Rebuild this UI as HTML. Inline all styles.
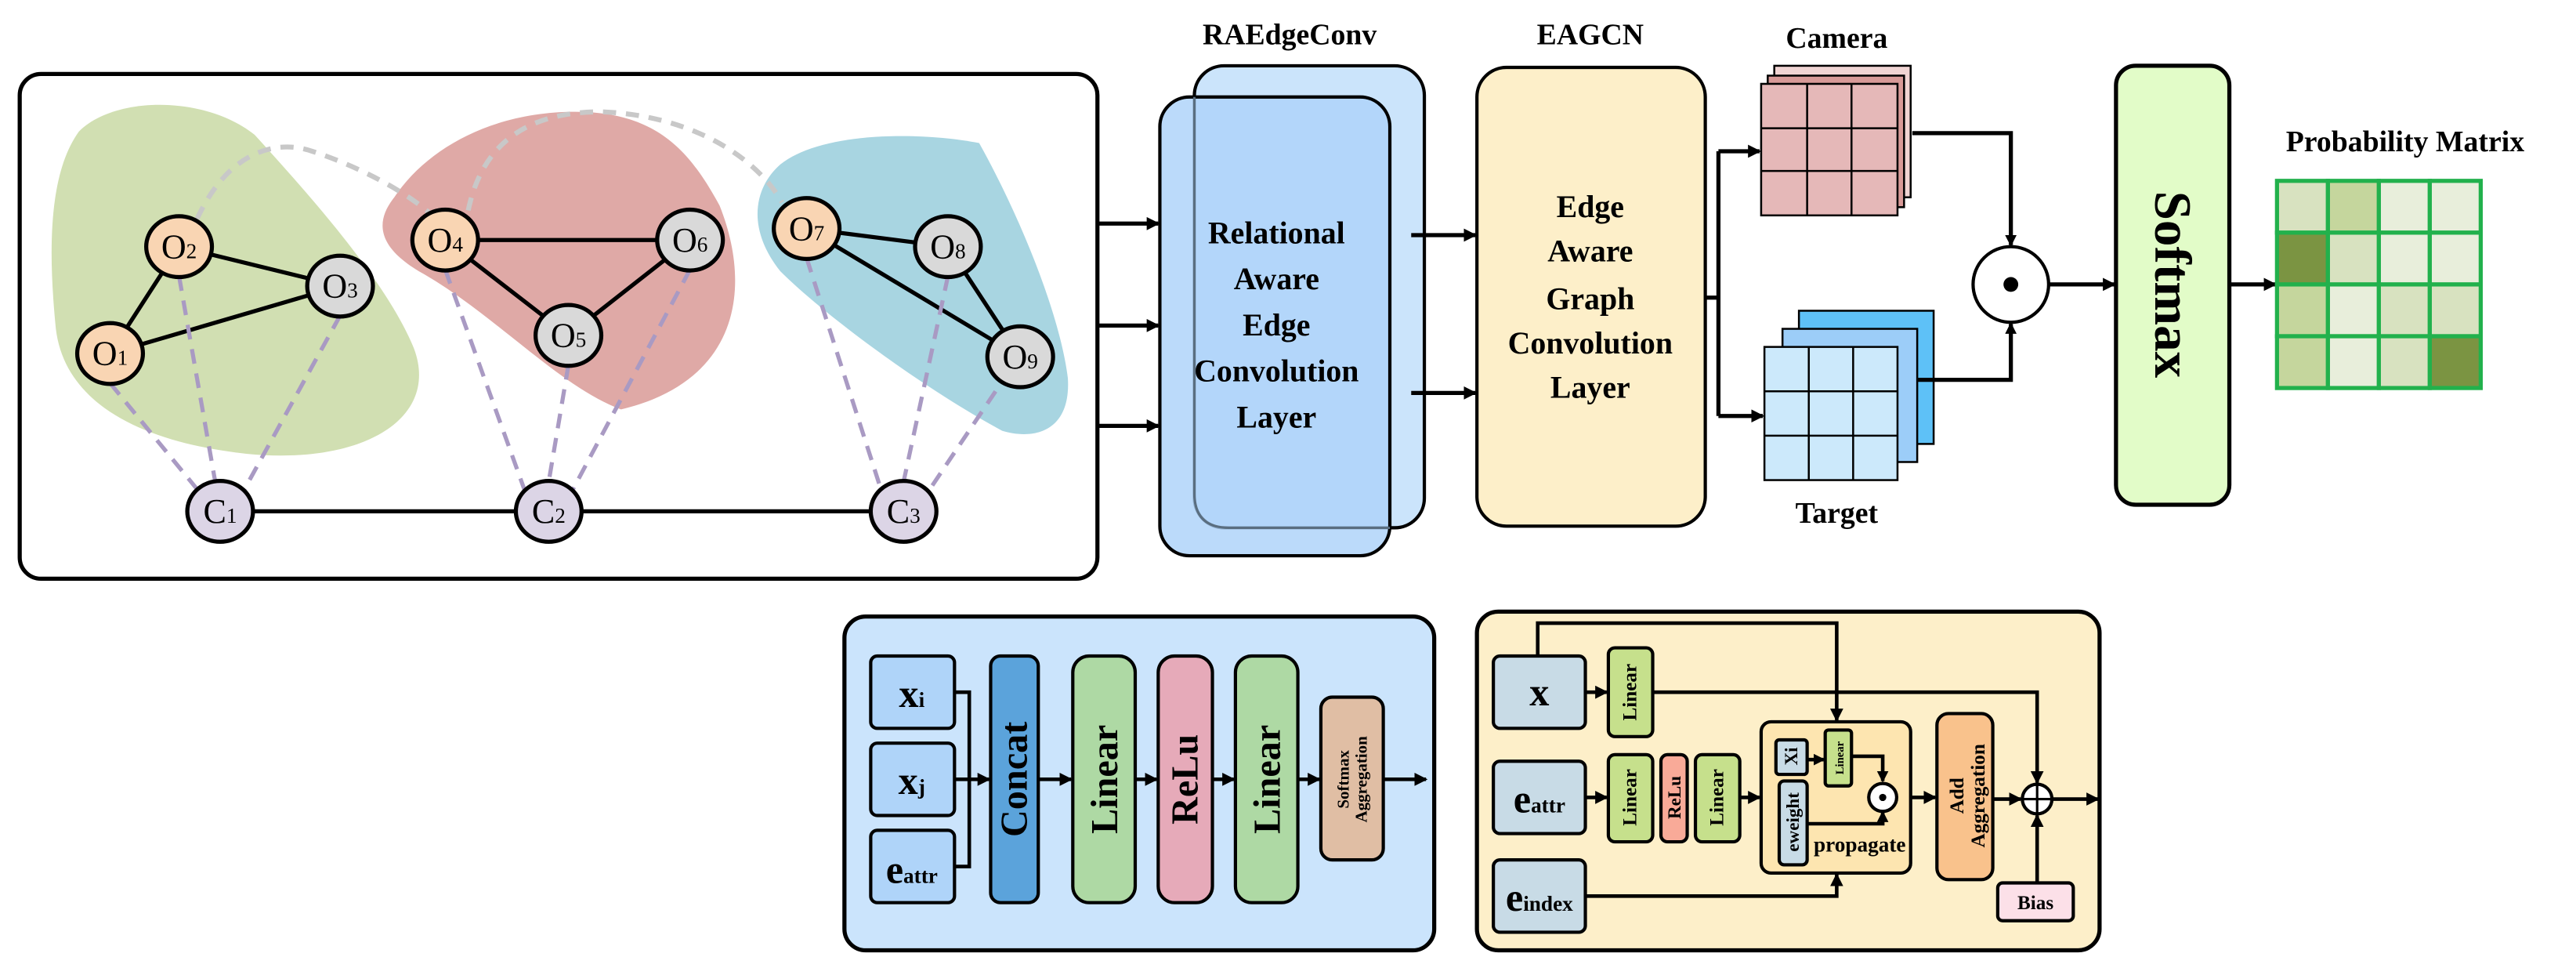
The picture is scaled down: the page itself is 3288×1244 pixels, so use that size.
<!DOCTYPE html>
<html><head><meta charset="utf-8"><style>
html,body{margin:0;padding:0;background:#fff;}
svg{display:block;}
</style></head><body>
<svg width="3288" height="1244" viewBox="0 0 1568 593" preserveAspectRatio="none" xmlns="http://www.w3.org/2000/svg" font-family="'Liberation Serif', 'DejaVu Serif', serif" font-weight="bold" style="font-family:'Liberation Serif','DejaVu Serif',serif">
<defs>
<marker id="a" markerWidth="10" markerHeight="10" refX="7" refY="4" orient="auto" markerUnits="userSpaceOnUse"><path d="M0,0 L8,4 L0,8 Z" fill="#000"/></marker>
<marker id="s" markerWidth="8" markerHeight="8" refX="6" refY="3.5" orient="auto" markerUnits="userSpaceOnUse"><path d="M0,0 L7,3.5 L0,7 Z" fill="#000"/></marker>
</defs>

<rect x="12" y="45" width="656" height="307" rx="13" fill="#fff" stroke="#000" stroke-width="2.5"/>
<path d="M48,80 C70,58 125,58 155,82 C185,115 235,170 252,212 C268,255 220,283 150,276 C95,270 40,250 34,200 C29,150 30,105 48,80 Z" fill="#d1dfb2"/>
<path d="M240,120 C260,90 300,68 350,68 C400,68 420,92 438,125 C458,175 450,232 378,249 C340,235 300,190 255,165 C230,150 228,135 240,120 Z" fill="#dfa9a6"/>
<path d="M475,100 C500,80 560,80 596,87 C620,130 645,190 650,230 C652,262 630,268 610,262 C560,235 500,190 475,165 C455,140 458,115 475,100 Z" fill="#a8d5e1"/>
<path d="M120,133 C140,90 170,85 190,92 C215,100 245,115 262,130" fill="none" stroke="#c8c8c8" stroke-width="3" stroke-dasharray="8,6"/>
<path d="M285,128 C295,80 330,68 366,68 C420,70 460,95 476,123" fill="none" stroke="#c8c8c8" stroke-width="3" stroke-dasharray="8,6"/>
<g stroke="#000" stroke-width="2.5">
<line x1="67" y1="215" x2="109" y2="150"/><line x1="109" y1="150" x2="207" y2="174"/><line x1="67" y1="215" x2="207" y2="174"/>
<line x1="271" y1="146" x2="420" y2="146"/><line x1="271" y1="146" x2="346" y2="204"/><line x1="346" y1="204" x2="420" y2="146"/>
<line x1="491" y1="139" x2="577" y2="150"/><line x1="491" y1="139" x2="621" y2="217"/><line x1="577" y1="150" x2="621" y2="217"/>
<line x1="134" y1="311" x2="550" y2="311"/>
</g>
<g stroke="#a99ac3" stroke-width="2.5" stroke-dasharray="9,6" fill="none">
<line x1="67" y1="233" x2="122" y2="300"/><line x1="109" y1="168" x2="131" y2="293"/><line x1="207" y1="192" x2="148" y2="299"/>
<line x1="271" y1="164" x2="320" y2="300"/><line x1="346" y1="222" x2="334" y2="293"/><line x1="420" y1="164" x2="348" y2="299"/>
<line x1="491" y1="157" x2="537" y2="300"/><line x1="577" y1="168" x2="550" y2="293"/><line x1="606" y1="238" x2="565" y2="299"/>
</g>
<g stroke="#000" stroke-width="2.5">
<ellipse cx="67" cy="215" rx="20" ry="18.5" fill="#f9d5b3"/>
<ellipse cx="109" cy="150" rx="20" ry="18.5" fill="#f9d5b3"/>
<ellipse cx="207" cy="174" rx="20" ry="18.5" fill="#d9d9d9"/>
<ellipse cx="271" cy="146" rx="20" ry="18.5" fill="#f9d5b3"/>
<ellipse cx="346" cy="204" rx="20" ry="18.5" fill="#d9d9d9"/>
<ellipse cx="420" cy="146" rx="20" ry="18.5" fill="#d9d9d9"/>
<ellipse cx="491" cy="139" rx="20" ry="18.5" fill="#f9d5b3"/>
<ellipse cx="577" cy="150" rx="20" ry="18.5" fill="#d9d9d9"/>
<ellipse cx="621" cy="217" rx="20" ry="18.5" fill="#d9d9d9"/>
<ellipse cx="134" cy="311" rx="20" ry="18.5" fill="#dcd5e6"/>
<ellipse cx="334" cy="311" rx="20" ry="18.5" fill="#dcd5e6"/>
<ellipse cx="550" cy="311" rx="20" ry="18.5" fill="#dcd5e6"/>
</g>
<g font-size="21" text-anchor="middle" font-weight="normal">
<text x="67" y="222">O<tspan font-size="13">1</tspan></text>
<text x="109" y="157">O<tspan font-size="13">2</tspan></text>
<text x="207" y="181">O<tspan font-size="13">3</tspan></text>
<text x="271" y="153">O<tspan font-size="13">4</tspan></text>
<text x="346" y="211">O<tspan font-size="13">5</tspan></text>
<text x="420" y="153">O<tspan font-size="13">6</tspan></text>
<text x="491" y="146">O<tspan font-size="13">7</tspan></text>
<text x="577" y="157">O<tspan font-size="13">8</tspan></text>
<text x="621" y="224">O<tspan font-size="13">9</tspan></text>
<text x="134" y="318">C<tspan font-size="13">1</tspan></text>
<text x="334" y="318">C<tspan font-size="13">2</tspan></text>
<text x="550" y="318">C<tspan font-size="13">3</tspan></text>
</g>

<g stroke="#000" stroke-width="2.5" marker-end="url(#a)">
<line x1="668" y1="136" x2="705" y2="136"/><line x1="668" y1="198" x2="705" y2="198"/><line x1="668" y1="259" x2="705" y2="259"/>
</g>
<text x="785" y="27" font-size="18" text-anchor="middle">RAEdgeConv</text>
<rect x="727" y="40" width="140" height="281" rx="18" fill="#cbe4fb" stroke="#000" stroke-width="2"/>
<rect x="706" y="59" width="140" height="279" rx="18" fill="#afd4f9" fill-opacity="0.85" stroke="#000" stroke-width="2"/>
<path d="M727,59 L727,300 Q727,321 748,321 L846,321" fill="none" stroke="#5a6e80" stroke-width="1.5"/>
<g font-size="19" text-anchor="middle">
<text x="777" y="148">Relational</text><text x="777" y="176">Aware</text><text x="777" y="204">Edge</text><text x="777" y="232">Convolution</text><text x="777" y="260">Layer</text>
</g>
<g stroke="#000" stroke-width="2.5" marker-end="url(#a)">
<line x1="859" y1="143" x2="898" y2="143"/><line x1="859" y1="239" x2="898" y2="239"/>
</g>
<text x="968" y="27" font-size="18" text-anchor="middle">EAGCN</text>
<rect x="899" y="41" width="139" height="279" rx="18" fill="#fdefc9" stroke="#000" stroke-width="2"/>
<g font-size="19" text-anchor="middle">
<text x="968" y="132">Edge</text><text x="968" y="159">Aware</text><text x="968" y="188">Graph</text><text x="968" y="215">Convolution</text><text x="968" y="242">Layer</text>
</g>
<g stroke="#000" stroke-width="2.5" fill="none">
<line x1="1038" y1="181" x2="1046" y2="181"/>
<line x1="1046" y1="92" x2="1046" y2="253"/>
<line x1="1046" y1="92" x2="1071" y2="92" marker-end="url(#a)"/>
<line x1="1046" y1="253" x2="1073" y2="253" marker-end="url(#a)"/>
</g>
<text x="1118" y="29" font-size="18" text-anchor="middle">Camera</text>
<g stroke="#000" stroke-width="1.2">
<rect x="1080" y="40" width="83" height="80" fill="#f0d4d3"/>
<rect x="1076" y="46" width="83" height="80" fill="#d89a98"/>
<rect x="1072" y="51" width="83" height="80" fill="#e5b8b8"/>
<line x1="1100" y1="51" x2="1100" y2="131"/><line x1="1127" y1="51" x2="1127" y2="131"/>
<line x1="1072" y1="78" x2="1155" y2="78"/><line x1="1072" y1="104" x2="1155" y2="104"/>
</g>
<g stroke="#000" stroke-width="1.2">
<rect x="1095" y="189" width="82" height="81" fill="#5ec1f7"/>
<rect x="1085" y="200" width="82" height="81" fill="#9ccdf8"/>
<rect x="1074" y="211" width="81" height="81" fill="#cce9fb"/>
<line x1="1101" y1="211" x2="1101" y2="292"/><line x1="1128" y1="211" x2="1128" y2="292"/>
<line x1="1074" y1="238" x2="1155" y2="238"/><line x1="1074" y1="265" x2="1155" y2="265"/>
</g>
<text x="1118" y="318" font-size="18" text-anchor="middle">Target</text>
<g stroke="#000" stroke-width="2.5" fill="none">
<polyline points="1164,81 1224,81 1224,149" marker-end="url(#s)"/>
<polyline points="1167,231 1224,231 1224,197" marker-end="url(#s)"/>
<line x1="1247" y1="173" x2="1287" y2="173" marker-end="url(#a)"/>
<line x1="1357" y1="173" x2="1385" y2="173" marker-end="url(#a)"/>
</g>
<circle cx="1224" cy="173" r="23" fill="#fff" stroke="#000" stroke-width="2"/>
<circle cx="1224" cy="173" r="4.5" fill="#000"/>
<rect x="1288" y="40" width="69" height="267" rx="12" fill="#e2fcc8" stroke="#000" stroke-width="2.5"/>
<text transform="translate(1322,173) rotate(90)" font-size="32" text-anchor="middle" dy="10">Softmax</text>
<text x="1464" y="92" font-size="18" text-anchor="middle">Probability Matrix</text>
<g stroke="#22b14c" stroke-width="2.5">
<rect x="1386" y="110" width="31" height="31.5" fill="#d8e2c0"/><rect x="1417" y="110" width="31" height="31.5" fill="#c5d69d"/><rect x="1448" y="110" width="31" height="31.5" fill="#e8eedb"/><rect x="1479" y="110" width="31" height="31.5" fill="#e8eedb"/>
<rect x="1386" y="141.5" width="31" height="31.5" fill="#7b9442"/><rect x="1417" y="141.5" width="31" height="31.5" fill="#d8e2c0"/><rect x="1448" y="141.5" width="31" height="31.5" fill="#e8eedb"/><rect x="1479" y="141.5" width="31" height="31.5" fill="#e8eedb"/>
<rect x="1386" y="173" width="31" height="31.5" fill="#c5d69d"/><rect x="1417" y="173" width="31" height="31.5" fill="#e8eedb"/><rect x="1448" y="173" width="31" height="31.5" fill="#d8e2c0"/><rect x="1479" y="173" width="31" height="31.5" fill="#d8e2c0"/>
<rect x="1386" y="204.5" width="31" height="31.5" fill="#c5d69d"/><rect x="1417" y="204.5" width="31" height="31.5" fill="#e8eedb"/><rect x="1448" y="204.5" width="31" height="31.5" fill="#d8e2c0"/><rect x="1479" y="204.5" width="31" height="31.5" fill="#7b9442"/>
</g>

<rect x="514" y="375" width="359" height="203" rx="13" fill="#cbe4fc" stroke="#000" stroke-width="2.5"/>
<g stroke="#000" stroke-width="2">
<rect x="530" y="399" width="51" height="44" rx="4" fill="#afd4f9"/>
<rect x="530" y="452" width="51" height="44" rx="4" fill="#afd4f9"/>
<rect x="530" y="505" width="51" height="44" rx="4" fill="#afd4f9"/>
<rect x="603" y="399" width="29" height="150" rx="6" fill="#5ba3db"/>
<rect x="653" y="399" width="38" height="150" rx="10" fill="#aed9a4"/>
<rect x="705" y="399" width="33" height="150" rx="10" fill="#e6aab9"/>
<rect x="752" y="399" width="38" height="150" rx="10" fill="#aed9a4"/>
<rect x="804" y="424" width="38" height="99" rx="7" fill="#e0bea4"/>
</g>
<g stroke="#000" stroke-width="2.2" fill="none">
<polyline points="581,421 590,421 590,527 581,527"/>
<line x1="581" y1="474" x2="602" y2="474" marker-end="url(#a)"/>
<line x1="632" y1="474" x2="652" y2="474" marker-end="url(#a)"/>
<line x1="691" y1="474" x2="704" y2="474" marker-end="url(#a)"/>
<line x1="738" y1="474" x2="751" y2="474" marker-end="url(#a)"/>
<line x1="790" y1="474" x2="803" y2="474" marker-end="url(#a)"/>
<line x1="842" y1="474" x2="868" y2="474" marker-end="url(#a)"/>
</g>
<text x="555" y="430" font-size="24" text-anchor="middle">x<tspan font-size="13">i</tspan></text>
<text x="555" y="483" font-size="24" text-anchor="middle">x<tspan font-size="13">j</tspan></text>
<text x="555" y="537" font-size="24" text-anchor="middle">e<tspan font-size="13">attr</tspan></text>
<text transform="translate(617,474) rotate(-90)" font-size="23" text-anchor="middle" dy="8">Concat</text>
<text transform="translate(672,474) rotate(-90)" font-size="23" text-anchor="middle" dy="8">Linear</text>
<text transform="translate(721,474) rotate(-90)" font-size="23" text-anchor="middle" dy="8">ReLu</text>
<text transform="translate(771,474) rotate(-90)" font-size="23" text-anchor="middle" dy="8">Linear</text>
<text transform="translate(823,474) rotate(-90)" font-size="10" text-anchor="middle"><tspan x="0" dy="-2">Softmax</tspan><tspan x="0" dy="11">Aggregation</tspan></text>

<rect x="899" y="372" width="379" height="206" rx="13" fill="#fdefc9" stroke="#000" stroke-width="2.5"/>
<g stroke="#000" stroke-width="2">
<rect x="909" y="399" width="56" height="44" rx="4" fill="#c8dbe6"/>
<rect x="909" y="463" width="56" height="44" rx="4" fill="#c8dbe6"/>
<rect x="909" y="523" width="56" height="44" rx="4" fill="#c8dbe6"/>
<rect x="979" y="394" width="27" height="54" rx="4" fill="#c6e08c"/>
<rect x="979" y="459" width="27" height="53" rx="4" fill="#c6e08c"/>
<rect x="1011" y="459" width="16" height="53" rx="4" fill="#f9aa98"/>
<rect x="1032" y="459" width="27" height="53" rx="4" fill="#c6e08c"/>
<rect x="1072" y="439" width="91" height="92" rx="6" fill="#fde5b0"/>
<rect x="1081" y="450" width="19" height="21" rx="2" fill="#c8dbe6"/>
<rect x="1111" y="444" width="16" height="34" rx="2" fill="#c6e08c"/>
<rect x="1083" y="475" width="17" height="51" rx="3" fill="#c8dbe6"/>
<rect x="1179" y="434" width="34" height="101" rx="7" fill="#f9c28c"/>
<rect x="1216" y="537" width="46" height="23" rx="3" fill="#fce0e8"/>
</g>
<g stroke="#000" stroke-width="2.2" fill="none">
<polyline points="936,399 936,379 1118,379 1118,438" marker-end="url(#a)"/>
<polyline points="1006,421 1240,421 1240,476" marker-end="url(#a)"/>
<line x1="965" y1="421" x2="978" y2="421" marker-end="url(#a)"/>
<line x1="965" y1="485" x2="978" y2="485" marker-end="url(#a)"/>
<line x1="1059" y1="485" x2="1071" y2="485" marker-end="url(#a)"/>
<line x1="1100" y1="462" x2="1110" y2="462" marker-end="url(#s)"/>
<polyline points="1127,460 1146,460 1146,475" marker-end="url(#s)"/>
<polyline points="1100,501 1146,501 1146,494" marker-end="url(#s)"/>
<line x1="1163" y1="485" x2="1178" y2="485" marker-end="url(#a)"/>
<line x1="1213" y1="486" x2="1230" y2="486" marker-end="url(#a)"/>
<line x1="1249" y1="486" x2="1277" y2="486" marker-end="url(#a)"/>
<polyline points="965,545 1118,545 1118,532" marker-end="url(#a)"/>
<line x1="1240" y1="537" x2="1240" y2="496" marker-end="url(#a)"/>
</g>
<circle cx="1146" cy="485" r="8.5" fill="#fff" stroke="#000" stroke-width="2"/>
<circle cx="1146" cy="485" r="2.2" fill="#000"/>
<circle cx="1240" cy="486" r="9" fill="#fff" stroke="#000" stroke-width="2"/>
<line x1="1231" y1="486" x2="1249" y2="486" stroke="#000" stroke-width="1.5"/><line x1="1240" y1="477" x2="1240" y2="495" stroke="#000" stroke-width="1.5"/>
<text x="937" y="429" font-size="24" text-anchor="middle">x</text>
<text x="937" y="494" font-size="24" text-anchor="middle">e<tspan font-size="13">attr</tspan></text>
<text x="937" y="554" font-size="24" text-anchor="middle">e<tspan font-size="13">index</tspan></text>
<text transform="translate(992,421) rotate(-90)" font-size="12" text-anchor="middle" dy="4">Linear</text>
<text transform="translate(992,485) rotate(-90)" font-size="12" text-anchor="middle" dy="4">Linear</text>
<text transform="translate(1019,485) rotate(-90)" font-size="11" text-anchor="middle" dy="4">ReLu</text>
<text transform="translate(1045,485) rotate(-90)" font-size="12" text-anchor="middle" dy="4">Linear</text>
<text transform="translate(1090,460) rotate(-90)" font-size="11" text-anchor="middle" dy="4">Xi</text>
<text transform="translate(1119,461) rotate(-90)" font-size="7" text-anchor="middle" dy="3">Linear</text>
<text transform="translate(1091,500) rotate(-90)" font-size="11" text-anchor="middle" dy="4">eweight</text>
<text x="1132" y="518" font-size="13" text-anchor="middle">propagate</text>
<text transform="translate(1196,484) rotate(-90)" font-size="12" text-anchor="middle"><tspan x="0" dy="-1">Add</tspan><tspan x="0" dy="13">Aggregation</tspan></text>
<text x="1239" y="553" font-size="12" text-anchor="middle">Bias</text>
</svg>
</body></html>
